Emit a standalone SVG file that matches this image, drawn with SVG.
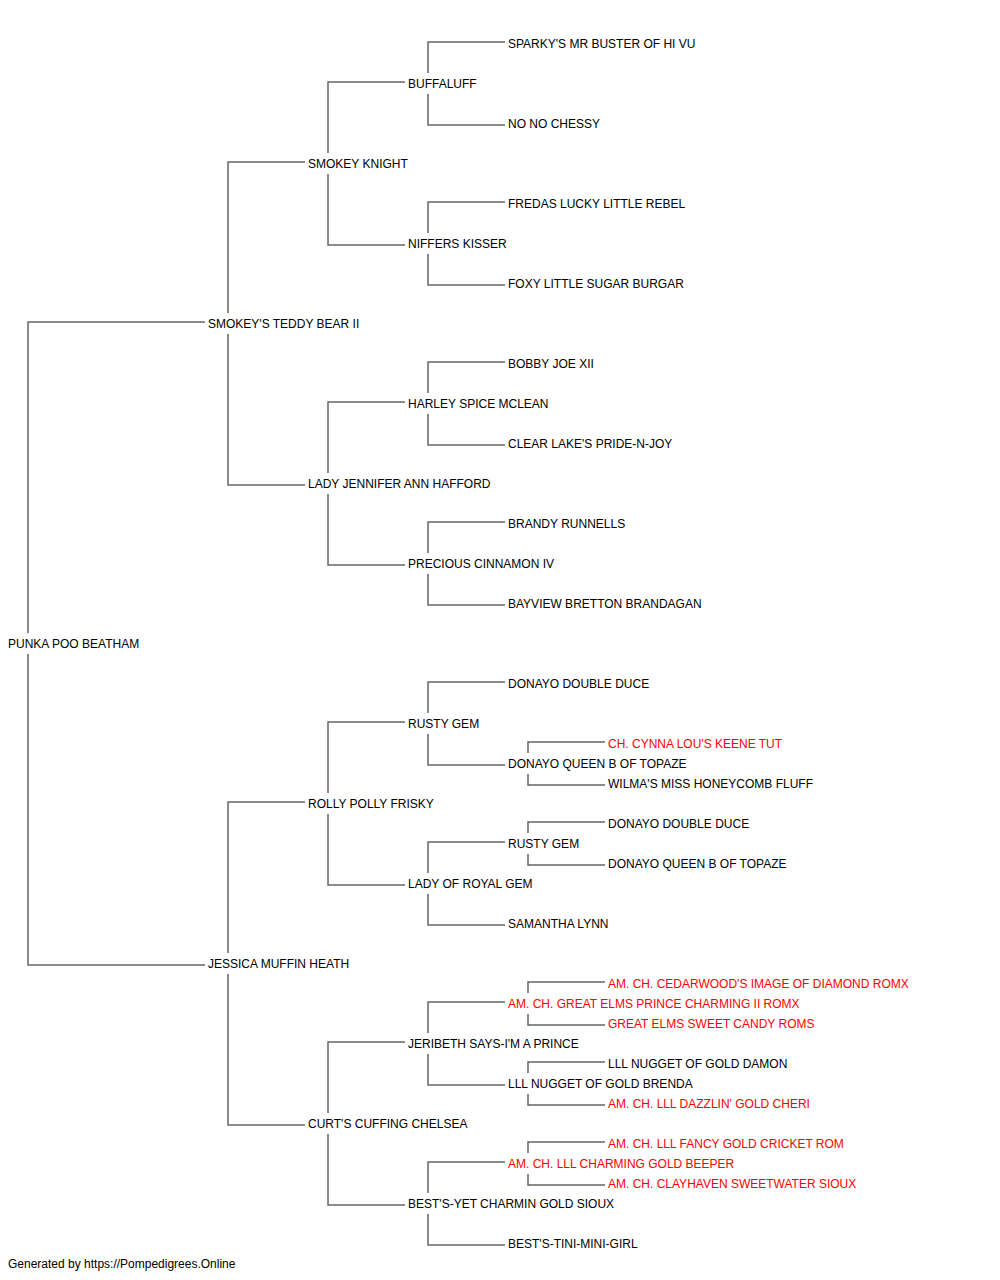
<svg xmlns="http://www.w3.org/2000/svg" width="1000" height="1280" viewBox="0 0 1000 1280">
<style>
text{font-family:"Liberation Sans",Arial,sans-serif;font-size:12px;fill:#000}
text.ch{fill:#ff0000}
#connectors path{fill:none;stroke:#666;stroke-width:1.5}
</style>
<rect width="1000" height="1280" fill="#fff"/>
<g id="connectors">
<path d="M28,633V322H205M28,654V965H205"/>
<path d="M228,313V162H305M228,334V485H305"/>
<path d="M328,153V82H405M328,174V245H405"/>
<path d="M428,73V42H505M428,94V125H505"/>
<path d="M428,233V202H505M428,254V285H505"/>
<path d="M328,473V402H405M328,494V565H405"/>
<path d="M428,393V362H505M428,414V445H505"/>
<path d="M428,553V522H505M428,574V605H505"/>
<path d="M228,953V802H305M228,974V1125H305"/>
<path d="M328,793V722H405M328,814V885H405"/>
<path d="M428,713V682H505M428,734V765H505"/>
<path d="M528,753V742H605M528,774V785H605"/>
<path d="M428,873V842H505M428,894V925H505"/>
<path d="M528,833V822H605M528,854V865H605"/>
<path d="M328,1113V1042H405M328,1134V1205H405"/>
<path d="M428,1033V1002H505M428,1054V1085H505"/>
<path d="M528,993V982H605M528,1014V1025H605"/>
<path d="M528,1073V1062H605M528,1094V1105H605"/>
<path d="M428,1193V1162H505M428,1214V1245H505"/>
<path d="M528,1153V1142H605M528,1174V1185H605"/>
</g>
<g id="n-root"><text x="8" y="648">PUNKA POO BEATHAM</text></g>
<g id="n-s"><text x="208" y="328">SMOKEY'S TEDDY BEAR II</text></g>
<g id="n-ss"><text x="308" y="168">SMOKEY KNIGHT</text></g>
<g id="n-sss"><text x="408" y="88">BUFFALUFF</text></g>
<g id="n-ssss"><text x="508" y="48">SPARKY'S MR BUSTER OF HI VU</text></g>
<g id="n-sssd"><text x="508" y="128">NO NO CHESSY</text></g>
<g id="n-ssd"><text x="408" y="248">NIFFERS KISSER</text></g>
<g id="n-ssds"><text x="508" y="208">FREDAS LUCKY LITTLE REBEL</text></g>
<g id="n-ssdd"><text x="508" y="288">FOXY LITTLE SUGAR BURGAR</text></g>
<g id="n-sd"><text x="308" y="488">LADY JENNIFER ANN HAFFORD</text></g>
<g id="n-sds"><text x="408" y="408">HARLEY SPICE MCLEAN</text></g>
<g id="n-sdss"><text x="508" y="368">BOBBY JOE XII</text></g>
<g id="n-sdsd"><text x="508" y="448">CLEAR LAKE'S PRIDE-N-JOY</text></g>
<g id="n-sdd"><text x="408" y="568">PRECIOUS CINNAMON IV</text></g>
<g id="n-sdds"><text x="508" y="528">BRANDY RUNNELLS</text></g>
<g id="n-sddd"><text x="508" y="608">BAYVIEW BRETTON BRANDAGAN</text></g>
<g id="n-d"><text x="208" y="968">JESSICA MUFFIN HEATH</text></g>
<g id="n-ds"><text x="308" y="808">ROLLY POLLY FRISKY</text></g>
<g id="n-dss"><text x="408" y="728">RUSTY GEM</text></g>
<g id="n-dsss"><text x="508" y="688">DONAYO DOUBLE DUCE</text></g>
<g id="n-dssd"><text x="508" y="768">DONAYO QUEEN B OF TOPAZE</text></g>
<g id="n-dssds"><text class="ch" x="608" y="748">CH. CYNNA LOU'S KEENE TUT</text></g>
<g id="n-dssdd"><text x="608" y="788">WILMA'S MISS HONEYCOMB FLUFF</text></g>
<g id="n-dsd"><text x="408" y="888">LADY OF ROYAL GEM</text></g>
<g id="n-dsds"><text x="508" y="848">RUSTY GEM</text></g>
<g id="n-dsdss"><text x="608" y="828">DONAYO DOUBLE DUCE</text></g>
<g id="n-dsdsd"><text x="608" y="868">DONAYO QUEEN B OF TOPAZE</text></g>
<g id="n-dsdd"><text x="508" y="928">SAMANTHA LYNN</text></g>
<g id="n-dd"><text x="308" y="1128">CURT'S CUFFING CHELSEA</text></g>
<g id="n-dds"><text x="408" y="1048">JERIBETH SAYS-I'M A PRINCE</text></g>
<g id="n-ddss"><text class="ch" x="508" y="1008">AM. CH. GREAT ELMS PRINCE CHARMING II ROMX</text></g>
<g id="n-ddsss"><text class="ch" x="608" y="988">AM. CH. CEDARWOOD'S IMAGE OF DIAMOND ROMX</text></g>
<g id="n-ddssd"><text class="ch" x="608" y="1028">GREAT ELMS SWEET CANDY ROMS</text></g>
<g id="n-ddsd"><text x="508" y="1088">LLL NUGGET OF GOLD BRENDA</text></g>
<g id="n-ddsds"><text x="608" y="1068">LLL NUGGET OF GOLD DAMON</text></g>
<g id="n-ddsdd"><text class="ch" x="608" y="1108">AM. CH. LLL DAZZLIN' GOLD CHERI</text></g>
<g id="n-ddd"><text x="408" y="1208">BEST'S-YET CHARMIN GOLD SIOUX</text></g>
<g id="n-ddds"><text class="ch" x="508" y="1168">AM. CH. LLL CHARMING GOLD BEEPER</text></g>
<g id="n-dddss"><text class="ch" x="608" y="1148">AM. CH. LLL FANCY GOLD CRICKET ROM</text></g>
<g id="n-dddsd"><text class="ch" x="608" y="1188">AM. CH. CLAYHAVEN SWEETWATER SIOUX</text></g>
<g id="n-dddd"><text x="508" y="1248">BEST'S-TINI-MINI-GIRL</text></g>
<g id="footer"><text x="8" y="1268">Generated by https://Pompedigrees.Online</text></g>
</svg>
